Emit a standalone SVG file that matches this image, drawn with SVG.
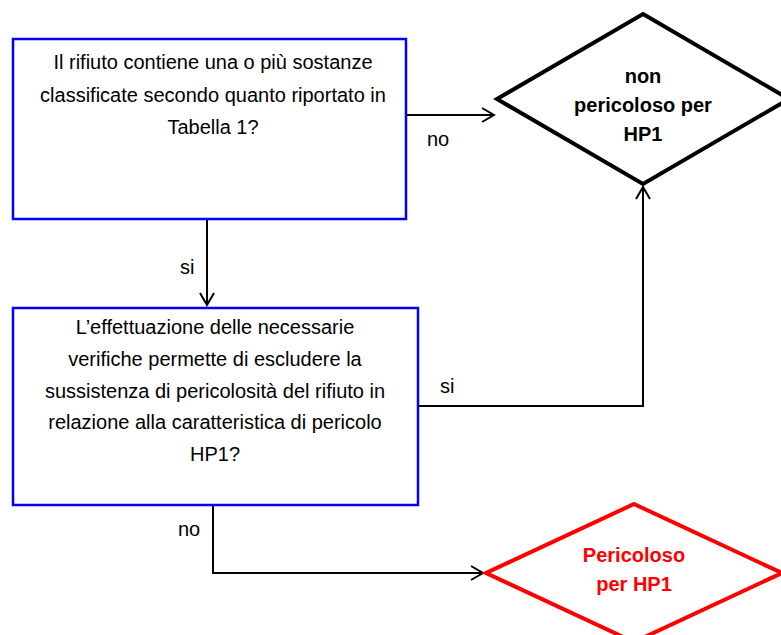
<svg xmlns="http://www.w3.org/2000/svg" width="781" height="635" viewBox="0 0 781 635">
<defs>
<marker id="arr" markerWidth="16" markerHeight="16" refX="13" refY="8" orient="auto" markerUnits="userSpaceOnUse">
<path d="M1,1 L13,8 L1,15" fill="none" stroke="#000" stroke-width="2"/>
</marker>
</defs>
<style>
.box{fill:#fff;stroke:#0000ff;stroke-width:2.5}
.t{font-family:"Liberation Sans",Arial,sans-serif;font-size:20px;fill:#000;text-anchor:middle}
.lbl{font-family:"Liberation Sans",Arial,sans-serif;font-size:20px;fill:#000}
.b{font-weight:bold}
.red{fill:#ff0000}
.con{fill:none;stroke:#000;stroke-width:2}
</style>
<rect width="781" height="635" fill="#fff"/>
<g id="connectors">
<path class="con" d="M406,115 L494,115" marker-end="url(#arr)"/>
<path class="con" d="M207,219 L207,305" marker-end="url(#arr)"/>
<path class="con" d="M418,406 L643,406 L643,187" marker-end="url(#arr)"/>
<path class="con" d="M213,505 L213,573 L483,573" marker-end="url(#arr)"/>
<text class="lbl" x="427" y="146">no</text>
<text class="lbl" x="180" y="274">si</text>
<text class="lbl" x="440" y="393">si</text>
<text class="lbl" x="178" y="536">no</text>
</g>
<g id="q1">
<rect class="box" x="13" y="39" width="393" height="180"/>
<text class="t" x="213" y="69">Il rifiuto contiene una o più sostanze</text>
<text class="t" x="213" y="102">classificate secondo quanto riportato in</text>
<text class="t" x="213" y="134">Tabella 1?</text>
</g>
<g id="q2">
<rect class="box" x="13" y="308" width="405" height="197"/>
<text class="t" x="215" y="334">L’effettuazione delle necessarie</text>
<text class="t" x="215" y="366">verifiche permette di escludere la</text>
<text class="t" x="215" y="398">sussistenza di pericolosità del rifiuto in</text>
<text class="t" x="215" y="429">relazione alla caratteristica di pericolo</text>
<text class="t" x="215" y="461">HP1?</text>
</g>
<g id="nonpericoloso">
<polygon points="643,14 789,99 643,184 497,99" fill="#fff" stroke="#000" stroke-width="4" stroke-linejoin="miter"/>
<text class="t b" x="643" y="83">non</text>
<text class="t b" x="643" y="112">pericoloso per</text>
<text class="t b" x="643" y="141">HP1</text>
</g>
<g id="pericoloso">
<polygon points="634,504 782,573 634,642 486,573" fill="#fff" stroke="#ff0000" stroke-width="4" stroke-linejoin="miter"/>
<text class="t b red" x="634" y="562">Pericoloso</text>
<text class="t b red" x="634" y="591">per HP1</text>
</g>
</svg>
